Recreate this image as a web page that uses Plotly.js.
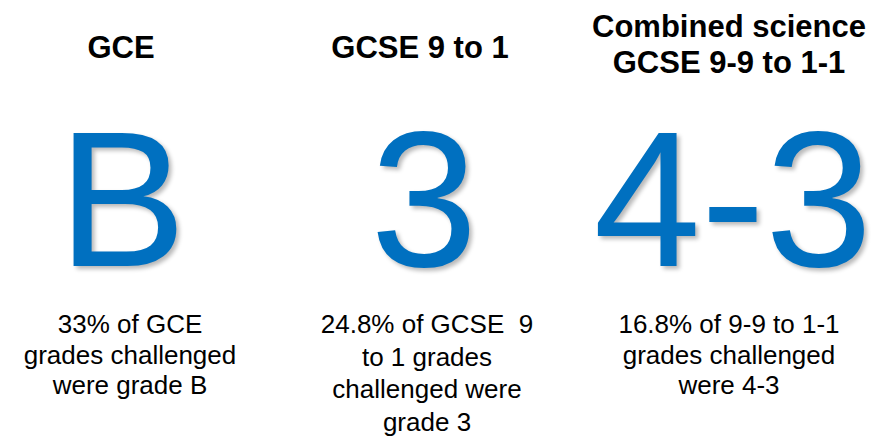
<!DOCTYPE html>
<html>
<head>
<meta charset="utf-8">
<script src="https://cdn.plot.ly/plotly-3.0.1.min.js"></script>
<style>
  html, body { margin: 0; padding: 0; background: #ffffff; }
  #chart { width: 875px; height: 437px; }
</style>
</head>
<body>
<div id="chart"></div>
<script>
// ---- data ----
const categories = ["GCE", "GCSE 9 to 1", "Combined science"];
const headingLines = [["GCE"], ["GCSE 9 to 1"], ["Combined science", "GCSE 9-9 to 1-1"]];
const grades = ["B", "3", "4-3"];
const shares = ["33%", "24.8%", "16.8%"];
const descriptionLines = [
  ["33% of GCE", "grades challenged", "were grade B"],
  ["24.8% of GCSE\u00a0 9", "to 1 grades", "challenged were", "grade 3"],
  ["16.8% of 9-9 to 1-1", "grades challenged", "were 4-3"]
];

// ---- layout (positions in pixel units of the 875x437 canvas) ----
const W = 875, H = 437;
const headingX = [121, 420, 729];
const gradeX = [122, 424, 733];
const descX = [130, 427, 729];
const headingBaseline0 = [58, 58, 37];
const headingStep = 36;
const gradeBaseline = 266;
const descBaseline0 = 333;
const descStep = [30.5, 32.5, 30.5];

const HEAD_FS = 31, GRADE_FS = 193, DESC_FS = 26;
const FONT = "Liberation Sans, Arial, sans-serif";
const BLUE = "#0070C0";

// scatter 'middle center' text: baseline = y + 0.25*fontSize (single line)
function yFromBaseline(b, fs) { return b - 0.25 * fs; }

const traces = [];

// headings
const hx = [], hy = [], ht = [];
headingLines.forEach((lines, i) => {
  lines.forEach((t, j) => {
    hx.push(headingX[i]);
    hy.push(yFromBaseline(headingBaseline0[i] + j * headingStep, HEAD_FS));
    ht.push("<b>" + t + "</b>");
  });
});
traces.push({
  type: "scatter", mode: "text", x: hx, y: hy, text: ht,
  textposition: "middle center", hoverinfo: "skip", showlegend: false,
  textfont: { family: FONT, size: HEAD_FS, color: "#000000" }
});

// big grades
traces.push({
  type: "scatter", mode: "text",
  x: gradeX, y: grades.map(() => yFromBaseline(gradeBaseline, GRADE_FS)),
  text: grades, customdata: categories,
  textposition: "middle center", hoverinfo: "skip", showlegend: false,
  textfont: { family: FONT, size: GRADE_FS, color: BLUE,
              shadow: "3px 3px 4px rgba(0,0,0,0.28)" }
});

// descriptions
const dx = [], dy = [], dt = [];
descriptionLines.forEach((lines, i) => {
  lines.forEach((t, j) => {
    dx.push(descX[i]);
    dy.push(yFromBaseline(descBaseline0 + j * descStep[i], DESC_FS));
    dt.push(t);
  });
});
traces.push({
  type: "scatter", mode: "text", x: dx, y: dy, text: dt,
  textposition: "middle center", hoverinfo: "skip", showlegend: false,
  textfont: { family: FONT, size: DESC_FS, color: "#000000" }
});

const layout = {
  width: W, height: H,
  margin: { l: 0, r: 0, t: 0, b: 0, pad: 0 },
  paper_bgcolor: "#ffffff", plot_bgcolor: "#ffffff",
  xaxis: { range: [0, W], visible: false, fixedrange: true },
  yaxis: { range: [H, 0], visible: false, fixedrange: true },
  showlegend: false
};

Plotly.newPlot("chart", traces, layout, { displayModeBar: false, staticPlot: true });
</script>
</body>
</html>
